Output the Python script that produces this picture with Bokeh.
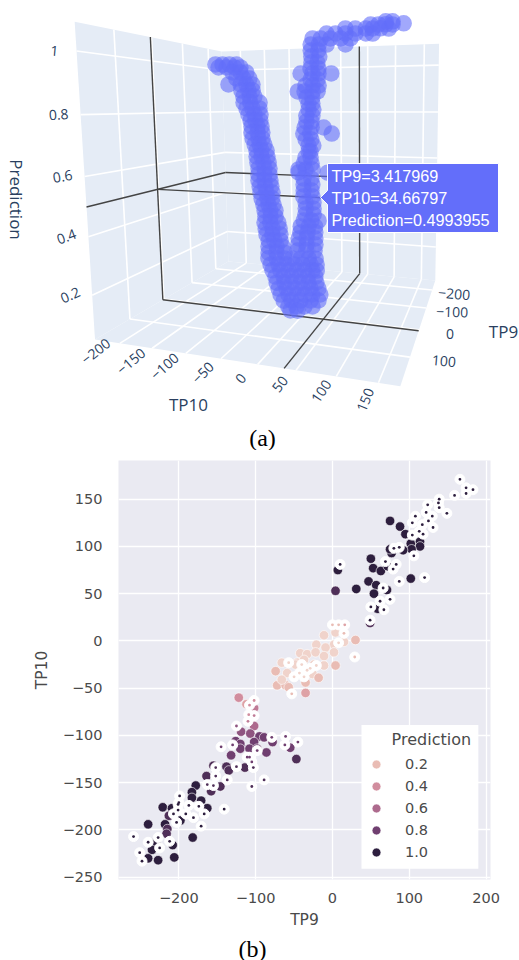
import numpy as np
from bokeh.plotting import figure
from bokeh.layouts import column
from bokeh.models import Range1d, Label, BoxAnnotation, Legend, LegendItem, LinearColorMapper
from bokeh.core.properties import value
from bokeh.embed import file_html
from bokeh.resources import INLINE

# ---------- data of panel (a): values
TP10_a=[-249,-221,-195,-170,-237,-206,-177,-157,-185,-157,-138,-172,-148,-129,-201,-158,-139,-120,
-156,-133,-120,-150,-130,-115,-150,-128,-100,-141,-122,-101,-135,-116,-98,-129,-114,-99,-126,-108,-96,-127,-108,-94,-124,-106,-94,-118,-103,-89,-113,-98,-83,-113,-98,-81,-111,-93,-78,-108,-90,-76,-109,-91,-76,-109,-91,-74,-106,-89,-72,-104,-86,-69,-101,-84,-70,-96,-81,-67,-93,-76,-62,-91,-76,-62,-94,-77,-55,-91,-71,-52,-89,-72,-50,-83,-67,-50,-84,-61,-45,-84,-62,-40,
-85,-62,-41,-21,-1,17,32,-79,-57,-36,-16,3,21,34,-74,-52,-31,-11,7,25,34,-66,-44,-24,-4,14,31,-63,-42,-22,-2,16,33,-58,-37,-17,2,20,37,-53,-32,-12,7,24,41,-45,-25,-3,20,37,-33,-13,6,24,-28,-10,
27,43,58,91,31,47,65,83,99,58,74,91,107,123,133,91,107,123,133,144,155,130,141,151,160,151,160,174,
27,42,28,44,28,40,26,42,5,30,42,66,26,40,15,30,42,-2,13,30,40,17,29,21,29,21,31,16,29,16,27,12,27,51,9,24,66,14,26,20,30,24,20,24,13,9,26,-3,13,28,-3,58,8,25,8,27,8,25,7,27,12,29,12,29,11,29,7,24,39,0,18,32,-1,15,32,-5,13,32,-6,13,32,-8,12,30]
TP9_a=list(TP10_a)
Pred_a=[1.027,1.020,1.015,1.009,1.010,1.004,.998,.994,.977,.972,.969,.949,.945,.942,.926,.921,.918,.916,
.895,.893,.892,.868,.867,.866,.842,.842,.841,.817,.817,.817,.791,.792,.792,.766,.767,.768,.741,.742,.744,.715,.717,.719,.690,.693,.695,.666,.668,.671,.641,.645,.648,.616,.620,.624,.591,.596,.601,.567,.572,.577,.541,.547,.552,.516,.522,.529,.491,.498,.506,.467,.475,.482,.442,.451,.458,.420,.427,.434,.396,.405,.413,.372,.380,.388,.344,.355,.368,.320,.333,.346,.297,.308,.323,.275,.287,.298,.249,.266,.278,.223,.241,.257,
.198,.216,.233,.249,.265,.279,.291,.176,.195,.213,.230,.246,.261,.271,.156,.175,.193,.210,.226,.242,.249,.137,.157,.176,.193,.210,.225,.114,.135,.154,.172,.189,.205,.094,.115,.134,.153,.171,.187,.074,.095,.115,.134,.152,.169,.057,.079,.101,.125,.143,.046,.067,.088,.107,.035,.054,
1.033,1.028,1.023,1.013,1.052,1.046,1.040,1.034,1.028,1.058,1.052,1.046,1.040,1.034,1.030,1.061,1.054,1.048,1.044,1.040,1.035,1.056,1.052,1.048,1.044,1.056,1.052,1.041,
1.013,1.009,.993,.989,.973,.970,.953,.950,.940,.936,.934,.930,.916,.914,.897,.896,.894,.878,.877,.875,.875,.856,.855,.835,.835,.814,.814,.793,.794,.772,.773,.751,.753,.755,.729,.732,.737,.709,.711,.689,.691,.669,.668,.648,.645,.622,.627,.597,.602,.607,.586,.606,.568,.574,.546,.554,.524,.532,.502,.511,.482,.491,.460,.469,.438,.448,.413,.424,.432,.387,.398,.407,.364,.374,.386,.338,.351,.364,.315,.328,.342,.290,.306,.319]
TP10_ticks=[-200,-150,-100,-50,0,50,100,150]; TP9_ticks=[-200,-100,0,100]; Z_ticks=[0.2,0.4,0.6,0.8,1.0]
TP10_labels=["−200","−150","−100","−50","0","50","100","150"]; TP9_labels=["−200","−100","0","100"]; Z_labels=["0.2","0.4","0.6","0.8","1"]
hover=(34.66797,3.417969,0.4993955)

# ---------- data of panel (b): solid markers, then white-ringed markers
TP9_s=[75,88,95,102,114,114,103,92,77,75,50,53,63,72,7,4,31,47,57,71,54,59,102,49,
-122,-112,-102,-102,-119,-107,-95,-89,-102,-126,-120,-120,-108,-98,-86,-132,-78,-55,-47,-138,-135,-114,-155,-164,-178,-146,-158,-183,-183,-171,-163,-221,-209,-213,-218,-240,-198,-215,-216,-182,-230,-208,-235,-240,-227,-206,
-11,4,15,30,-21,2,-9,-42,-33,-22,-11,2,-66,-46,-37,-24,4,-11,-74,-59,-48,-26,-18,-35,-72,-61,-57,-35,-66]
TP10_s=[127,121,113,103,105,100,97,96,93,97,87,77,74,79,75,53,55,63,59,54,50,34,66,19,
-60,-67,-71,-90,-96,-98,-101,-102,-107,-106,-109,-114,-114,-114,-118,-121,-107,-113,-125,-133,-137,-134,-132,-143,-153,-154,-159,-160,-166,-169,-177,-176,-177,-185,-194,-194,-190,-199,-204,-208,-213,-216,-221,-230,-232,-229,
6,9,-1,1,-4,-4,-7,-13,-14,-12,-16,-12,-23,-23,-20,-25,-26,-26,-32,-34,-25,-35,-39,-44,-47,-47,-49,-55,-41]
Pred_s=[1,1,1,1,1,1,1,1,1,1,1,1,1,1,1,.9,1,1,1,1,1,1,1,.9,
.4,.3,.5,.6,.7,.7,.8,.8,.8,.8,.8,.8,.8,.8,.8,.8,.8,.8,.9,.9,.9,.9,.9,.9,1,.9,.9,1,1,1,1,1,1,.9,1,1,1,.9,.9,1,1,1,1,1,1,1,
.1,.1,.1,.2,.1,.1,.1,.1,.1,.1,.1,.1,.1,.1,.1,.1,.2,.1,.2,.1,.1,.1,.2,.2,.2,.2,.2,.3,.1]
TP9_d=[166,174,183,174,159,139,139,138,124,122,108,130,149,104,117,125,131,104,118,113,80,87,106,69,83,79,10,87,120,66,75,62,50,67,49,
-102,-108,-102,-109,-110,-125,-79,-61,-62,-45,-145,-130,-98,-108,-111,-105,-152,-125,-103,-152,-137,-89,-105,-163,-155,-199,-201,-187,-174,-201,-191,-181,-167,-141,-203,-171,-259,-227,-240,-212,-225,-251,-248,-200,-207,
0,8,16,15,29,-57,8,-21,-29,-37,-50,-43,-53,-33,-40]
TP10_d=[171,162,160,156,154,150,141,146,144,136,132,132,135,125,123,127,120,112,113,116,98,99,90,84,81,76,81,63,67,56,44,42,36,33,22,
-63,-68,-79,-78,-85,-90,-102,-101,-110,-107,-112,-110,-116,-123,-123,-128,-134,-133,-134,-143,-147,-147,-154,-152,-153,-164,-173,-174,-175,-179,-183,-187,-183,-178,-192,-196,-207,-208,-213,-212,-219,-224,-233,-171,-183,
17,17,17,8,-17,-23,-2,-26,-29,-38,-38,-34,-56,-31,-25]
Pred_d=[1]*35+[.4,.4,.5,.4,.5,.7,.8,.8,.8,.8,.8,.8,.8,.8,.8,.8,.9,.9,.9,.9,.9,.9,.9,.9,.9,1,1,1,1,1,1,1,1,1,1,1,1,1,1,1,1,1,1,1,1,
.2,.2,.3,.2,.2,.1,.1,.1,.1,.1,.1,.1,.2,.1,.1]
X_ticks=[-200,-100,0,100,200]; Y_ticks=[-250,-200,-150,-100,-50,0,50,100,150]
Leg_vals=["0.2","0.4","0.6","0.8","1.0"]

# ---------- camera of the 3D box: box corners -> image pixels
T10MIN,T10MAX,T9MIN,T9MAX,ZMIN,ZMAX=-240,175,-260,185,0.045,1.09
cal=[((T10MIN,T9MAX,ZMIN),(90,337)),((T10MAX,T9MAX,ZMIN),(402,386)),((T10MAX,T9MIN,ZMIN),(432,280)),
     ((T10MIN,T9MIN,ZMIN),(232,262)),((T10MIN,T9MAX,ZMAX),(77,23)),((T10MAX,T9MIN,ZMAX),(440,43)),((T10MIN,T9MIN,ZMAX),(218,50))]
A=[]
for (x,y,z),(u,v) in cal:
    X=[x/100,y/100,z,1]
    A.append(X+[0,0,0,0]+[-u*c for c in X]); A.append([0,0,0,0]+X+[-v*c for c in X])
P=np.linalg.svd(np.array(A,float))[2][-1].reshape(3,4)
def proj(x,y,z):
    x,y,z=np.asarray(x,float),np.asarray(y,float),np.asarray(z,float)
    w=np.stack([x/100,y/100,z,np.ones_like(x)])
    h=P@w
    return h[0]/h[2],h[1]/h[2]

fa=figure(width=519,height=450,x_range=Range1d(0,519),y_range=Range1d(450,0),output_backend="svg",toolbar_location=None,min_border=0)
fa.frame_align=False
fa.axis.visible=False; fa.grid.visible=False; fa.outline_line_color=None
PANE="#E5ECF6"
for c in [[(T10MIN,T9MAX,ZMIN),(T10MAX,T9MAX,ZMIN),(T10MAX,T9MIN,ZMIN),(T10MIN,T9MIN,ZMIN)],
          [(T10MIN,T9MAX,ZMIN),(T10MIN,T9MAX,ZMAX),(T10MIN,T9MIN,ZMAX),(T10MIN,T9MIN,ZMIN)],
          [(T10MIN,T9MIN,ZMIN),(T10MIN,T9MIN,ZMAX),(T10MAX,T9MIN,ZMAX),(T10MAX,T9MIN,ZMIN)]]:
    c=np.array(c,float); u,v=proj(c[:,0],c[:,1],c[:,2]); fa.patch(u,v,fill_color=PANE,line_color=None)
def seg(a,b,**k):
    u,v=proj([a[0],b[0]],[a[1],b[1]],[a[2],b[2]]); fa.line(u,v,**k)
G=dict(line_color="white",line_width=1.6)
for t in TP10_ticks:
    seg((t,T9MAX,ZMIN),(t,T9MIN,ZMIN),**G); seg((t,T9MIN,ZMIN),(t,T9MIN,ZMAX),**G)
for t in TP9_ticks:
    seg((T10MIN,t,ZMIN),(T10MAX,t,ZMIN),**G); seg((T10MIN,t,ZMIN),(T10MIN,t,ZMAX),**G)
for z in Z_ticks:
    seg((T10MIN,T9MAX,z),(T10MIN,T9MIN,z),**G); seg((T10MIN,T9MIN,z),(T10MAX,T9MIN,z),**G)
S=dict(line_color="#444444",line_width=1.4)
hx,hy,hz=hover
seg((T10MIN,hy,ZMIN),(T10MIN,hy,ZMAX),**S); seg((T10MIN,T9MAX,hz),(T10MIN,T9MIN,hz),**S)
seg((hx,T9MIN,ZMIN),(hx,T9MIN,ZMAX),**S); seg((T10MIN,T9MIN,hz),(hx,T9MIN,hz),**S)
seg((T10MIN,hy,ZMIN),(T10MAX,hy,ZMIN),**S); seg((hx,T9MIN,ZMIN),(hx,T9MAX,ZMIN),**S)
seg((T10MIN,hy,hz),(hx,hy,hz),**S)
u,v=proj(TP10_a,TP9_a,Pred_a)
fa.scatter(u,v,size=16.5,fill_color="#636efa",fill_alpha=0.6,line_color=None)
TC="#2a3f5f"
def tlabels(us,vs,txt,ang,size="14px",color=TC,font="Open Sans",align="center",base="middle",target=None):
    (target or fa).text(x=us,y=vs,text=txt,angle=np.radians(ang),text_font=value(font),text_font_size=size,text_color=color,text_align=align,text_baseline=base)
u,v=proj(TP10_ticks,[T9MAX]*8,[ZMIN]*8); tlabels(u+np.array([-24,-21,-21,-18,-17,-16,-15,-13]),v+np.array([8,13,13,14,14,14,15,17]),TP10_labels,[38,40,42,45,50,52,56,68])
u,v=proj([T10MAX]*4,TP9_ticks,[ZMIN]*4); tlabels(u+np.array([22,26,31,34]),v+4,TP9_labels,[-5,-2,0,-5])
u,v=proj([T10MIN]*5,[T9MAX]*5,Z_ticks); tlabels(u-22,v+0,Z_labels,[24,20,10,4,-5])
tlabels([188],[404],["TP10"],[0],size="17px"); tlabels([503],[331],["TP9"],[0],size="17px"); tlabels([16],[199],["Prediction"],[-90],size="17px")
TIP=dict(fill_color="#636efa",line_color="white",line_width=1)
fa.patch([327,498,498,327,327,320,327],[163,163,232,232,204,197,190],**TIP)
tlabels([331,331,331],[175,197,219],["TP9=3.417969","TP10=34.66797","Prediction=0.4993955"],[0,0,0],size="16.2px",color="white",font="Liberation Sans",align="left")
tlabels([262],[437],["(a)"],[0],size="24px",color="black",font="Liberation Serif")

ramp=["#f0d3cb","#e9bcb4","#deA2a6","#d18d9e","#bf7b96","#ad6a8d","#8f5580","#703f70","#4f2f58","#2d1e3e"]
cm=LinearColorMapper(palette=ramp,low=0.05,high=1.05)
fb=figure(width=519,height=485,x_range=Range1d(-278.6,205.8),y_range=Range1d(-252.4,190.9),output_backend="svg",toolbar_location=None,
          min_border_left=118,min_border_right=29,min_border_top=10,min_border_bottom=56,background_fill_color="#eaeaf2")
fb.frame_align=False
fb.outline_line_color=None
fb.grid.grid_line_color="white"; fb.grid.grid_line_width=1.3
fb.xaxis.ticker=X_ticks; fb.yaxis.ticker=Y_ticks
fb.xaxis.major_label_overrides={t:str(t).replace("-","−") for t in X_ticks}
fb.yaxis.major_label_overrides={t:str(t).replace("-","−") for t in Y_ticks}
for ax in (fb.xaxis[0],fb.yaxis[0]):
    ax.axis_line_color=None; ax.major_tick_line_color=None; ax.minor_tick_line_color=None
    ax.major_tick_in=0; ax.major_tick_out=0
    ax.major_label_text_font="DejaVu Sans"; ax.major_label_text_font_size="14.5px"; ax.major_label_text_color="#4a4a4a"
    ax.axis_label_text_font="DejaVu Sans"; ax.axis_label_text_font_size="15.5px"; ax.axis_label_text_font_style="normal"; ax.axis_label_text_color="#4a4a4a"
fb.xaxis.major_label_standoff=13; fb.xaxis.axis_label_standoff=5
fb.yaxis.major_label_standoff=16; fb.yaxis.axis_label_standoff=9
fb.xaxis.axis_label="TP9"; fb.yaxis.axis_label="TP10"
rs=fb.scatter("x","y",source=dict(x=TP9_s,y=TP10_s,p=Pred_s),size=9.5,fill_color={"field":"p","transform":cm},line_color="white",line_width=0.6)
fb.scatter(TP9_d,TP10_d,size=10,fill_color="white",line_color="white")
fb.scatter("x","y",source=dict(x=TP9_d,y=TP10_d,p=Pred_d),size=2.8,fill_color={"field":"p","transform":cm},line_color=None)
fb.add_layout(BoxAnnotation(left=37.8,right=190,top=-88.9,bottom=-241,fill_color="white",fill_alpha=1,line_color=None))
fb.add_layout(Label(x=77,y=-104.8,text="Prediction",text_font="DejaVu Sans",text_font_size="16px",text_color="#4a4a4a",text_baseline="middle"))
items=[LegendItem(label=value(l),renderers=[rs],index=Pred_s.index(float(l))) for l in Leg_vals]
fb.add_layout(Legend(items=items,location=(243,12),background_fill_alpha=0,border_line_alpha=0,padding=4,spacing=0,glyph_width=22,glyph_height=22,label_height=20,label_standoff=18,margin=0,
   label_text_font="DejaVu Sans",label_text_font_size="14.5px",label_text_color="#4a4a4a"))
fc=figure(width=519,height=25,x_range=Range1d(0,519),y_range=Range1d(960,935),output_backend="svg",toolbar_location=None,min_border=0)
fc.frame_align=False; fc.axis.visible=False; fc.grid.visible=False; fc.outline_line_color=None
tlabels([252],[948],["(b)"],[0],size="24px",color="black",font="Liberation Serif",target=fc)
open("out.html","w").write(file_html(column(fa,fb,fc),INLINE))
